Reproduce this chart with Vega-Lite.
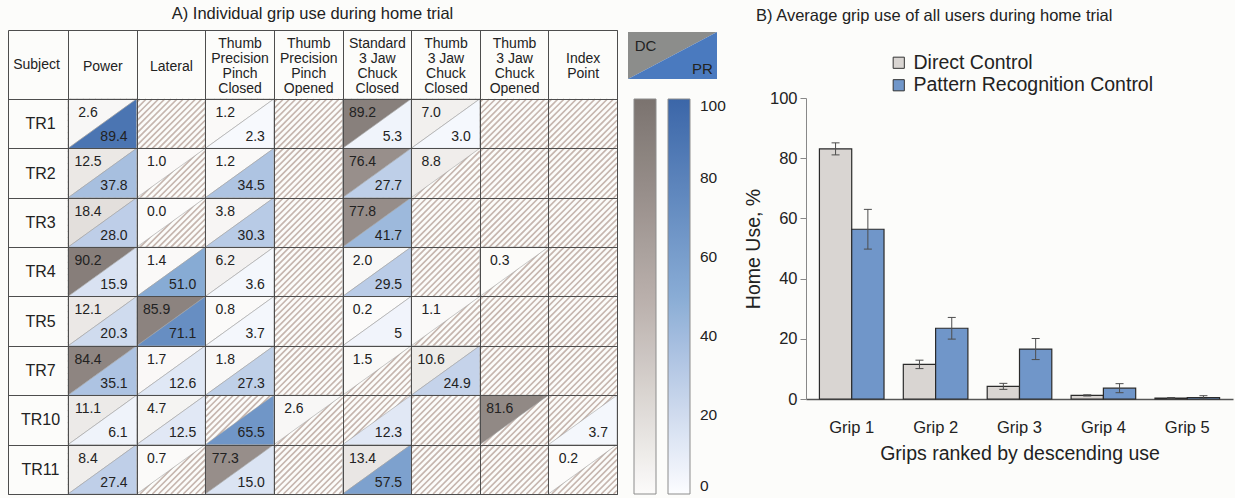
{
  "$schema": "https://vega.github.io/schema/vega-lite/v6.json",
  "background": "#fcfcfa",
  "padding": {"left": 2, "top": 5, "right": 2, "bottom": 0},
  "config": {
    "font": "Liberation Sans",
    "view": {"stroke": null},
    "axis": {"labelColor": "#222", "titleColor": "#222", "titleFontWeight": "normal"},
    "legend": {"labelColor": "#222"},
    "title": {"color": "#222", "fontWeight": "normal", "fontSize": 16.5, "frame": "group"}
  },
  "datasets": {
    "cells": [
      {"subject": "TR1", "grip": "Power", "dc": 2.6, "pr": 89.4, "dcText": "2.6", "prText": "89.4"},
      {"subject": "TR1", "grip": "Lateral"},
      {"subject": "TR1", "grip": "Thumb Precision Pinch Closed", "dc": 1.2, "pr": 2.3, "dcText": "1.2", "prText": "2.3"},
      {"subject": "TR1", "grip": "Thumb Precision Pinch Opened"},
      {"subject": "TR1", "grip": "Standard 3\u00a0Jaw Chuck Closed", "dc": 89.2, "pr": 5.3, "dcText": "89.2", "prText": "5.3"},
      {"subject": "TR1", "grip": "Thumb 3\u00a0Jaw Chuck Closed", "dc": 7.0, "pr": 3.0, "dcText": "7.0", "prText": "3.0"},
      {"subject": "TR1", "grip": "Thumb 3\u00a0Jaw Chuck Opened"},
      {"subject": "TR1", "grip": "Index Point"},
      {"subject": "TR2", "grip": "Power", "dc": 12.5, "pr": 37.8, "dcText": "12.5", "prText": "37.8"},
      {"subject": "TR2", "grip": "Lateral", "dc": 1.0, "dcText": "1.0"},
      {"subject": "TR2", "grip": "Thumb Precision Pinch Closed", "dc": 1.2, "pr": 34.5, "dcText": "1.2", "prText": "34.5"},
      {"subject": "TR2", "grip": "Thumb Precision Pinch Opened"},
      {"subject": "TR2", "grip": "Standard 3\u00a0Jaw Chuck Closed", "dc": 76.4, "pr": 27.7, "dcText": "76.4", "prText": "27.7"},
      {"subject": "TR2", "grip": "Thumb 3\u00a0Jaw Chuck Closed", "dc": 8.8, "dcText": "8.8"},
      {"subject": "TR2", "grip": "Thumb 3\u00a0Jaw Chuck Opened"},
      {"subject": "TR2", "grip": "Index Point"},
      {"subject": "TR3", "grip": "Power", "dc": 18.4, "pr": 28.0, "dcText": "18.4", "prText": "28.0"},
      {"subject": "TR3", "grip": "Lateral", "dc": 0.0, "dcText": "0.0"},
      {"subject": "TR3", "grip": "Thumb Precision Pinch Closed", "dc": 3.8, "pr": 30.3, "dcText": "3.8", "prText": "30.3"},
      {"subject": "TR3", "grip": "Thumb Precision Pinch Opened"},
      {"subject": "TR3", "grip": "Standard 3\u00a0Jaw Chuck Closed", "dc": 77.8, "pr": 41.7, "dcText": "77.8", "prText": "41.7"},
      {"subject": "TR3", "grip": "Thumb 3\u00a0Jaw Chuck Closed"},
      {"subject": "TR3", "grip": "Thumb 3\u00a0Jaw Chuck Opened"},
      {"subject": "TR3", "grip": "Index Point"},
      {"subject": "TR4", "grip": "Power", "dc": 90.2, "pr": 15.9, "dcText": "90.2", "prText": "15.9"},
      {"subject": "TR4", "grip": "Lateral", "dc": 1.4, "pr": 51.0, "dcText": "1.4", "prText": "51.0"},
      {"subject": "TR4", "grip": "Thumb Precision Pinch Closed", "dc": 6.2, "pr": 3.6, "dcText": "6.2", "prText": "3.6"},
      {"subject": "TR4", "grip": "Thumb Precision Pinch Opened"},
      {"subject": "TR4", "grip": "Standard 3\u00a0Jaw Chuck Closed", "dc": 2.0, "pr": 29.5, "dcText": "2.0", "prText": "29.5"},
      {"subject": "TR4", "grip": "Thumb 3\u00a0Jaw Chuck Closed"},
      {"subject": "TR4", "grip": "Thumb 3\u00a0Jaw Chuck Opened", "dc": 0.3, "dcText": "0.3"},
      {"subject": "TR4", "grip": "Index Point"},
      {"subject": "TR5", "grip": "Power", "dc": 12.1, "pr": 20.3, "dcText": "12.1", "prText": "20.3"},
      {"subject": "TR5", "grip": "Lateral", "dc": 85.9, "pr": 71.1, "dcText": "85.9", "prText": "71.1"},
      {"subject": "TR5", "grip": "Thumb Precision Pinch Closed", "dc": 0.8, "pr": 3.7, "dcText": "0.8", "prText": "3.7"},
      {"subject": "TR5", "grip": "Thumb Precision Pinch Opened"},
      {"subject": "TR5", "grip": "Standard 3\u00a0Jaw Chuck Closed", "dc": 0.2, "pr": 5, "dcText": "0.2", "prText": "5"},
      {"subject": "TR5", "grip": "Thumb 3\u00a0Jaw Chuck Closed", "dc": 1.1, "dcText": "1.1"},
      {"subject": "TR5", "grip": "Thumb 3\u00a0Jaw Chuck Opened"},
      {"subject": "TR5", "grip": "Index Point"},
      {"subject": "TR7", "grip": "Power", "dc": 84.4, "pr": 35.1, "dcText": "84.4", "prText": "35.1"},
      {"subject": "TR7", "grip": "Lateral", "dc": 1.7, "pr": 12.6, "dcText": "1.7", "prText": "12.6"},
      {"subject": "TR7", "grip": "Thumb Precision Pinch Closed", "dc": 1.8, "pr": 27.3, "dcText": "1.8", "prText": "27.3"},
      {"subject": "TR7", "grip": "Thumb Precision Pinch Opened"},
      {"subject": "TR7", "grip": "Standard 3\u00a0Jaw Chuck Closed", "dc": 1.5, "dcText": "1.5"},
      {"subject": "TR7", "grip": "Thumb 3\u00a0Jaw Chuck Closed", "dc": 10.6, "pr": 24.9, "dcText": "10.6", "prText": "24.9"},
      {"subject": "TR7", "grip": "Thumb 3\u00a0Jaw Chuck Opened"},
      {"subject": "TR7", "grip": "Index Point"},
      {"subject": "TR10", "grip": "Power", "dc": 11.1, "pr": 6.1, "dcText": "11.1", "prText": "6.1"},
      {"subject": "TR10", "grip": "Lateral", "dc": 4.7, "pr": 12.5, "dcText": "4.7", "prText": "12.5"},
      {"subject": "TR10", "grip": "Thumb Precision Pinch Closed", "pr": 65.5, "prText": "65.5"},
      {"subject": "TR10", "grip": "Thumb Precision Pinch Opened", "dc": 2.6, "dcText": "2.6"},
      {"subject": "TR10", "grip": "Standard 3\u00a0Jaw Chuck Closed", "pr": 12.3, "prText": "12.3"},
      {"subject": "TR10", "grip": "Thumb 3\u00a0Jaw Chuck Closed"},
      {"subject": "TR10", "grip": "Thumb 3\u00a0Jaw Chuck Opened", "dc": 81.6, "dcText": "81.6"},
      {"subject": "TR10", "grip": "Index Point", "pr": 3.7, "prText": "3.7"},
      {"subject": "TR11", "grip": "Power", "dc": 8.4, "pr": 27.4, "dcText": "8.4", "prText": "27.4"},
      {"subject": "TR11", "grip": "Lateral", "dc": 0.7, "dcText": "0.7"},
      {"subject": "TR11", "grip": "Thumb Precision Pinch Closed", "dc": 77.3, "pr": 15.0, "dcText": "77.3", "prText": "15.0"},
      {"subject": "TR11", "grip": "Thumb Precision Pinch Opened"},
      {"subject": "TR11", "grip": "Standard 3\u00a0Jaw Chuck Closed", "dc": 13.4, "pr": 57.5, "dcText": "13.4", "prText": "57.5"},
      {"subject": "TR11", "grip": "Thumb 3\u00a0Jaw Chuck Closed"},
      {"subject": "TR11", "grip": "Thumb 3\u00a0Jaw Chuck Opened"},
      {"subject": "TR11", "grip": "Index Point", "dc": 0.2, "dcText": "0.2"}
    ],
    "bars": [
      {"grip": "Grip 1", "method": "Direct Control", "mean": 83.1, "lo": 81.1, "hi": 85.1},
      {"grip": "Grip 1", "method": "Pattern Recognition Control", "mean": 56.4, "lo": 49.8, "hi": 63.0},
      {"grip": "Grip 2", "method": "Direct Control", "mean": 11.5, "lo": 10.1, "hi": 12.9},
      {"grip": "Grip 2", "method": "Pattern Recognition Control", "mean": 23.5, "lo": 19.9, "hi": 27.1},
      {"grip": "Grip 3", "method": "Direct Control", "mean": 4.2, "lo": 3.2, "hi": 5.2},
      {"grip": "Grip 3", "method": "Pattern Recognition Control", "mean": 16.6, "lo": 13.1, "hi": 20.1},
      {"grip": "Grip 4", "method": "Direct Control", "mean": 1.2, "lo": 1.0, "hi": 1.4},
      {"grip": "Grip 4", "method": "Pattern Recognition Control", "mean": 3.6, "lo": 2.1, "hi": 5.1},
      {"grip": "Grip 5", "method": "Direct Control", "mean": 0.3, "lo": 0.1, "hi": 0.5},
      {"grip": "Grip 5", "method": "Pattern Recognition Control", "mean": 0.5, "lo": 0.0, "hi": 1.1}
    ],
    "key": [{"method": "DC"}, {"method": "PR"}]
  },
  "hconcat": [
    {
      "width": 609,
      "height": 464,
      "view": {"stroke": "#4d4d4d", "strokeWidth": 1},
      "title": {"text": "A) Individual grip use during home trial", "anchor": "middle", "offset": 0},
      "data": {"name": "cells"},
      "encoding": {
        "x": {
          "field": "grip", "type": "nominal",
          "sort": ["Power", "Lateral", "Thumb Precision Pinch Closed", "Thumb Precision Pinch Opened", "Standard 3\u00a0Jaw Chuck Closed", "Thumb 3\u00a0Jaw Chuck Closed", "Thumb 3\u00a0Jaw Chuck Opened", "Index Point"],
          "scale": {"paddingInner": 0, "paddingOuter": 0.43716, "align": 1},
          "axis": {
            "orient": "top", "title": null, "tickBand": "extent", "grid": true,
            "gridColor": "#4d4d4d", "gridOpacity": 1, "gridWidth": 1,
            "ticks": false, "tickSize": 0, "domain": false, "labelAngle": 0,
            "labelPadding": -13.5, "labelBaseline": "middle", "labelAlign": "center",
            "labelFontSize": 14, "labelLineHeight": 7.5, "labelLimit": 0,
            "labelExpr": "split(substring('\u2800 \u2800 \u2800 ', 0, 2 * (4 - length(split(datum.label, ' ')))) + replace(datum.label, regexp(' ', 'g'), ' \u2800 '), ' ')",
            "zindex": 1
          }
        },
        "y": {
          "field": "subject", "type": "nominal",
          "sort": ["TR1", "TR2", "TR3", "TR4", "TR5", "TR7", "TR10", "TR11"],
          "scale": {"paddingInner": 0, "paddingOuter": 0.69873, "align": 1},
          "axis": {
            "orient": "left", "title": "Subject", "titleAngle": 0, "titleX": 28, "titleY": 34,
            "titleAlign": "center", "titleBaseline": "middle", "titleFontSize": 14,
            "tickBand": "extent", "grid": true, "gridColor": "#4d4d4d", "gridOpacity": 1, "gridWidth": 1,
            "ticks": false, "tickSize": 0, "domain": false,
            "labelPadding": -32, "labelAlign": "center", "labelBaseline": "middle",
            "labelFontSize": 16, "zindex": 1
          }
        }
      },
      "layer": [
        {
          "mark": {
            "type": "point",
            "shape": "M-1,-0.62L-0.9,-0.72M-1,-0.44L-0.72,-0.72M-1,-0.26L-0.54,-0.72M-1,-0.08L-0.36,-0.72M-1,0.1L-0.18,-0.72M-1,0.28L0,-0.72M-1,0.46L0.18,-0.72M-1,0.64L0.36,-0.72M-0.9,0.72L0.54,-0.72M-0.72,0.72L0.72,-0.72M-0.54,0.72L0.9,-0.72M-0.36,0.72L1,-0.64M-0.18,0.72L1,-0.46M0,0.72L1,-0.28M0.18,0.72L1,-0.1M0.36,0.72L1,0.08M0.54,0.72L1,0.26M0.72,0.72L1,0.44M0.9,0.72L1,0.62",
            "size": 4709, "filled": false, "color": "#c6b6af", "stroke": "#c6b6af", "strokeWidth": 1.7, "opacity": 1
          }
        },
        {
          "transform": [{"filter": "isValid(datum.dc)"}],
          "mark": {"type": "point", "shape": "M-1,-0.72L1,-0.72L-1,0.72Z", "size": 4709, "filled": true, "opacity": 1, "stroke": "#a3a3a3", "strokeWidth": 0.6},
          "encoding": {
            "color": {
              "field": "dc", "type": "quantitative",
              "scale": {"domain": [0, 50, 100], "range": ["#fcfbfa", "#b9afab", "#7b736f"]},
              "legend": {
                "orient": "none", "legendX": 626, "legendY": 69, "direction": "vertical",
                "gradientLength": 395, "gradientThickness": 22, "title": null,
                "labelExpr": "''", "gradientStrokeColor": "#8c8c8c", "gradientStrokeWidth": 1
              }
            }
          }
        },
        {
          "transform": [{"filter": "isValid(datum.pr)"}],
          "mark": {"type": "point", "shape": "M1,-0.72L1,0.72L-1,0.72Z", "size": 4709, "filled": true, "opacity": 1, "stroke": "#a3a3a3", "strokeWidth": 0.6},
          "encoding": {
            "color": {
              "field": "pr", "type": "quantitative",
              "scale": {"domain": [0, 50, 100], "range": ["#fcfdff", "#89acd5", "#3b66a8"]},
              "legend": {
                "orient": "none", "legendX": 660, "legendY": 69, "direction": "vertical",
                "gradientLength": 395, "gradientThickness": 22, "title": null,
                "values": [0, 20, 40, 60, 80, 100], "labelFontSize": 15.5, "labelOffset": 10,
                "gradientStrokeColor": "#8c8c8c", "gradientStrokeWidth": 1
              }
            }
          }
        },
        {
          "transform": [{"filter": "isValid(datum.dc)"}],
          "mark": {"type": "text", "dx": -14.3, "dy": -10.7, "fontSize": 14, "align": "center", "baseline": "middle", "color": "#222"},
          "encoding": {"text": {"field": "dcText", "type": "nominal"}}
        },
        {
          "transform": [{"filter": "isValid(datum.pr)"}],
          "mark": {"type": "text", "dx": 25.3, "dy": 13.3, "fontSize": 14, "align": "right", "baseline": "middle", "color": "#222"},
          "encoding": {"text": {"field": "prText", "type": "nominal"}}
        }
      ],
      "resolve": {"scale": {"color": "independent"}, "legend": {"color": "independent"}}
    },
    {
      "width": 167,
      "height": 47,
      "data": {"name": "key"},
      "layer": [
        {
          "transform": [{"filter": "datum.method == 'DC'"}],
          "mark": {"type": "point", "shape": "M-1,-0.528L1,-0.528L-1,0.528Z", "size": 7921, "filled": true, "opacity": 1, "color": "#8c8d8b", "xOffset": -39, "yOffset": 2},
          "encoding": {}
        },
        {
          "transform": [{"filter": "datum.method == 'PR'"}],
          "mark": {"type": "point", "shape": "M1,-0.528L1,0.528L-1,0.528Z", "size": 7921, "filled": true, "opacity": 1, "color": "#4a7abf", "xOffset": -39, "yOffset": 2},
          "encoding": {}
        },
        {
          "transform": [{"filter": "datum.method == 'DC'"}],
          "mark": {"type": "text", "dx": -66, "dy": -8, "fontSize": 15, "color": "#222"},
          "encoding": {"text": {"field": "method", "type": "nominal"}}
        },
        {
          "transform": [{"filter": "datum.method == 'PR'"}],
          "mark": {"type": "text", "dx": -9, "dy": 15, "fontSize": 15, "color": "#222"},
          "encoding": {"text": {"field": "method", "type": "nominal"}}
        }
      ]
    },
    {
      "vconcat": [
        {
          "width": 427,
          "height": 48,
          "data": {"values": []},
          "mark": "point",
          "encoding": {},
          "title": {"text": "B) Average grip use of all users during home trial", "anchor": "start", "dx": -50, "offset": 6}
        },
        {
          "width": 427,
          "height": 301,
          "data": {"name": "bars"},
          "encoding": {
            "x": {
              "field": "grip", "type": "nominal",
              "scale": {"paddingInner": 0.23, "paddingOuter": 0.16},
              "axis": {
                "title": "Grips ranked by descending use", "labelAngle": 0, "ticks": false,
                "labelPadding": 20, "labelFontSize": 16.5, "titleFontSize": 19.5, "titlePadding": 9,
                "domainColor": "#555", "domainWidth": 1.5
              }
            },
            "xOffset": {"field": "method", "type": "nominal", "sort": ["Direct Control", "Pattern Recognition Control"]}
          },
          "layer": [
            {
              "mark": {"type": "bar", "stroke": "#2b2b2b", "strokeWidth": 1.2},
              "encoding": {
                "y": {
                  "field": "mean", "type": "quantitative", "title": "Home Use, %",
                  "scale": {"domain": [0, 100], "nice": false},
                  "axis": {
                    "values": [0, 10, 20, 30, 40, 50, 60, 70, 80, 90, 100],
                    "labelExpr": "datum.value % 20 === 0 ? datum.label : ''",
                    "grid": false, "tickSize": 6, "domainColor": "#888", "tickColor": "#888",
                    "labelFontSize": 16.5, "titleFontSize": 19.5, "titlePadding": 6, "labelPadding": 3
                  }
                },
                "color": {
                  "field": "method", "type": "nominal",
                  "scale": {"domain": ["Direct Control", "Pattern Recognition Control"], "range": ["#d9d5d2", "#7096c9"]},
                  "legend": {
                    "orient": "none", "legendX": 83, "legendY": -45, "title": null,
                    "labelFontSize": 19.5, "labelLimit": 0, "symbolType": "square", "symbolSize": 125,
                    "symbolStrokeColor": "#333", "symbolStrokeWidth": 1, "symbolOpacity": 1,
                    "labelOffset": 5, "rowPadding": 1.5
                  }
                }
              }
            },
            {
              "mark": {"type": "rule", "color": "#4d4d4d", "strokeWidth": 1},
              "encoding": {
                "y": {"field": "lo", "type": "quantitative", "title": "Home Use, %"},
                "y2": {"field": "hi"}
              }
            },
            {
              "mark": {"type": "tick", "color": "#4d4d4d", "thickness": 1, "size": 8, "opacity": 1},
              "encoding": {"y": {"field": "lo", "type": "quantitative", "title": "Home Use, %"}}
            },
            {
              "mark": {"type": "tick", "color": "#4d4d4d", "thickness": 1, "size": 8, "opacity": 1},
              "encoding": {"y": {"field": "hi", "type": "quantitative", "title": "Home Use, %"}}
            }
          ]
        }
      ],
      "spacing": 20,
      "bounds": "flush",
      "resolve": {"scale": {"color": "independent"}, "legend": {"color": "independent"}}
    }
  ],
  "spacing": 11,
  "bounds": "flush",
  "resolve": {"scale": {"color": "independent"}, "legend": {"color": "independent"}}
}
